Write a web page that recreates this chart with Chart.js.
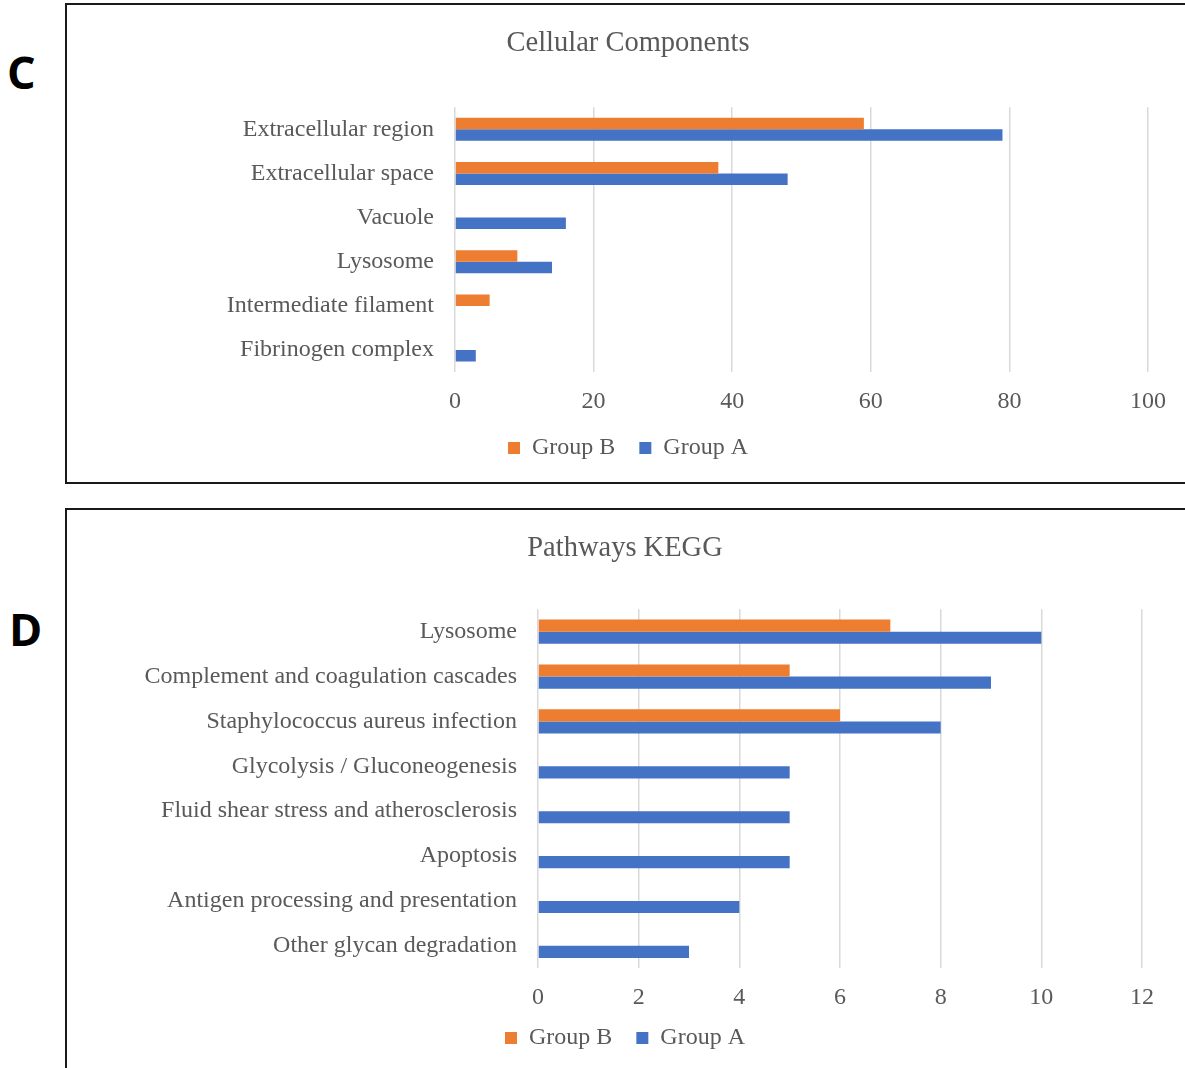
<!DOCTYPE html>
<html>

<head>
    <meta charset="utf-8">
    <title>Cellular Components / Pathways KEGG</title>
    <script src="https://cdn.jsdelivr.net/npm/chart.js@4.4.0/dist/chart.umd.min.js"></script>
    <style>
        body { margin: 0; width: 1185px; height: 1068px; overflow: hidden; background: #fff; position: relative; }
        .panel { position: absolute; left: 65px; width: 1140px; border: 2px solid #1a1a1a; box-sizing: border-box; overflow: hidden; }
        .letter { position: absolute; font-family: "Open Sans", "DejaVu Sans", sans-serif; font-weight: 700; font-size: 45px; color: #000; }
        canvas { position: absolute; left: 41px; top: 0; }
    </style>
</head>

<body>
    <div class="letter" style="left:7px; top:41px;">C</div>
    <div class="panel" style="top:3px; height:481px;">
        <canvas id="chartC" width="1077" height="477"></canvas>
    </div>
    <div class="letter" style="left:9px; top:598px;">D</div>
    <div class="panel" style="top:508px; height:580px;">
        <canvas id="chartD" width="1077" height="559"></canvas>
    </div>

    <script>
        // Cellular Components (panel C)
        const ccLabels = ['Extracellular region', 'Extracellular space', 'Vacuole', 'Lysosome', 'Intermediate filament', 'Fibrinogen complex'];
        const ccGroupB = [59, 38, 0, 9, 5, 0];
        const ccGroupA = [79, 48, 16, 14, 0, 3];

        // Pathways KEGG (panel D)
        const keggLabels = ['Lysosome', 'Complement and coagulation cascades', 'Staphylococcus aureus infection',
            'Glycolysis / Gluconeogenesis', 'Fluid shear stress and atherosclerosis', 'Apoptosis',
            'Antigen processing and presentation', 'Other glycan degradation'];
        const keggGroupB = [7, 5, 6, 0, 0, 0, 0, 0];
        const keggGroupA = [10, 9, 8, 5, 5, 5, 4, 3];

        const ORANGE = '#ED7D31';
        const BLUE = '#4472C4';
        const GREY = '#595959';
        const SERIF = '"Liberation Serif", "Times New Roman", serif';

        // the legend padding sets the gap between items; take some of it
        // back off the height so the legend sits close under the axis
        const legendTrim = {
            id: 'legendTrim',
            afterInit(chart, args, o) {
                const lg = chart.legend;
                const fit = lg.fit;
                lg.fit = function () {
                    fit.call(this);
                    this.height -= o.trim;
                };
            },
            afterLayout(chart, args, o) {
                // grow the box upward again so the text is not clipped
                chart.legend.top -= o.trim;
            }
        };

        function makeChart(id, opt) {
            return new Chart(document.getElementById(id), {
                type: 'bar',
                data: {
                    labels: opt.labels,
                    datasets: [
                        { label: 'Group B', data: opt.groupB, backgroundColor: ORANGE, categoryPercentage: opt.catPct, barPercentage: 1 },
                        { label: 'Group A', data: opt.groupA, backgroundColor: BLUE, categoryPercentage: opt.catPct, barPercentage: 1 }
                    ]
                },
                plugins: [legendTrim],
                options: {
                    indexAxis: 'y',
                    responsive: false,
                    animation: false,
                    layout: { padding: { left: 0, right: opt.padRight, top: 0, bottom: opt.padBottom } },
                    plugins: {
                        title: {
                            display: true,
                            text: opt.title,
                            color: GREY,
                            font: { family: SERIF, size: 28.5, weight: 'normal' },
                            padding: { top: 21, bottom: opt.titleGap }
                        },
                        legend: {
                            position: 'bottom',
                            labels: {
                                color: GREY,
                                font: { family: SERIF, size: 24 },
                                boxWidth: 12,
                                boxHeight: 12,
                                padding: 24
                            }
                        },
                        legendTrim: { trim: opt.trim },
                        tooltip: { enabled: false }
                    },
                    scales: {
                        x: {
                            min: 0,
                            max: opt.max,
                            ticks: { stepSize: opt.step, color: GREY, font: { family: SERIF, size: 24 }, padding: opt.tickPad },
                            grid: { color: '#d9d9d9', lineWidth: 1.5, drawTicks: false },
                            border: { display: false }
                        },
                        y: {
                            afterFit: function (scale) { scale.width = opt.yWidth; },
                            ticks: { color: GREY, font: { family: SERIF, size: 24 }, padding: 21 },
                            grid: { display: false, drawTicks: false },
                            border: { display: false }
                        }
                    }
                }
            });
        }

        makeChart('chartC', {
            labels: ccLabels, groupB: ccGroupB, groupA: ccGroupA,
            title: 'Cellular Components', max: 100, step: 20,
            catPct: 0.52, yWidth: 347, padRight: 37, padBottom: 12,
            titleGap: 47, tickPad: 15, trim: 19
        });

        makeChart('chartD', {
            labels: keggLabels, groupB: keggGroupB, groupA: keggGroupA,
            title: 'Pathways KEGG', max: 12, step: 2,
            catPct: 0.54, yWidth: 430, padRight: 43, padBottom: 9,
            titleGap: 44, tickPad: 15, trim: 25
        });
    </script>
</body>

</html>
